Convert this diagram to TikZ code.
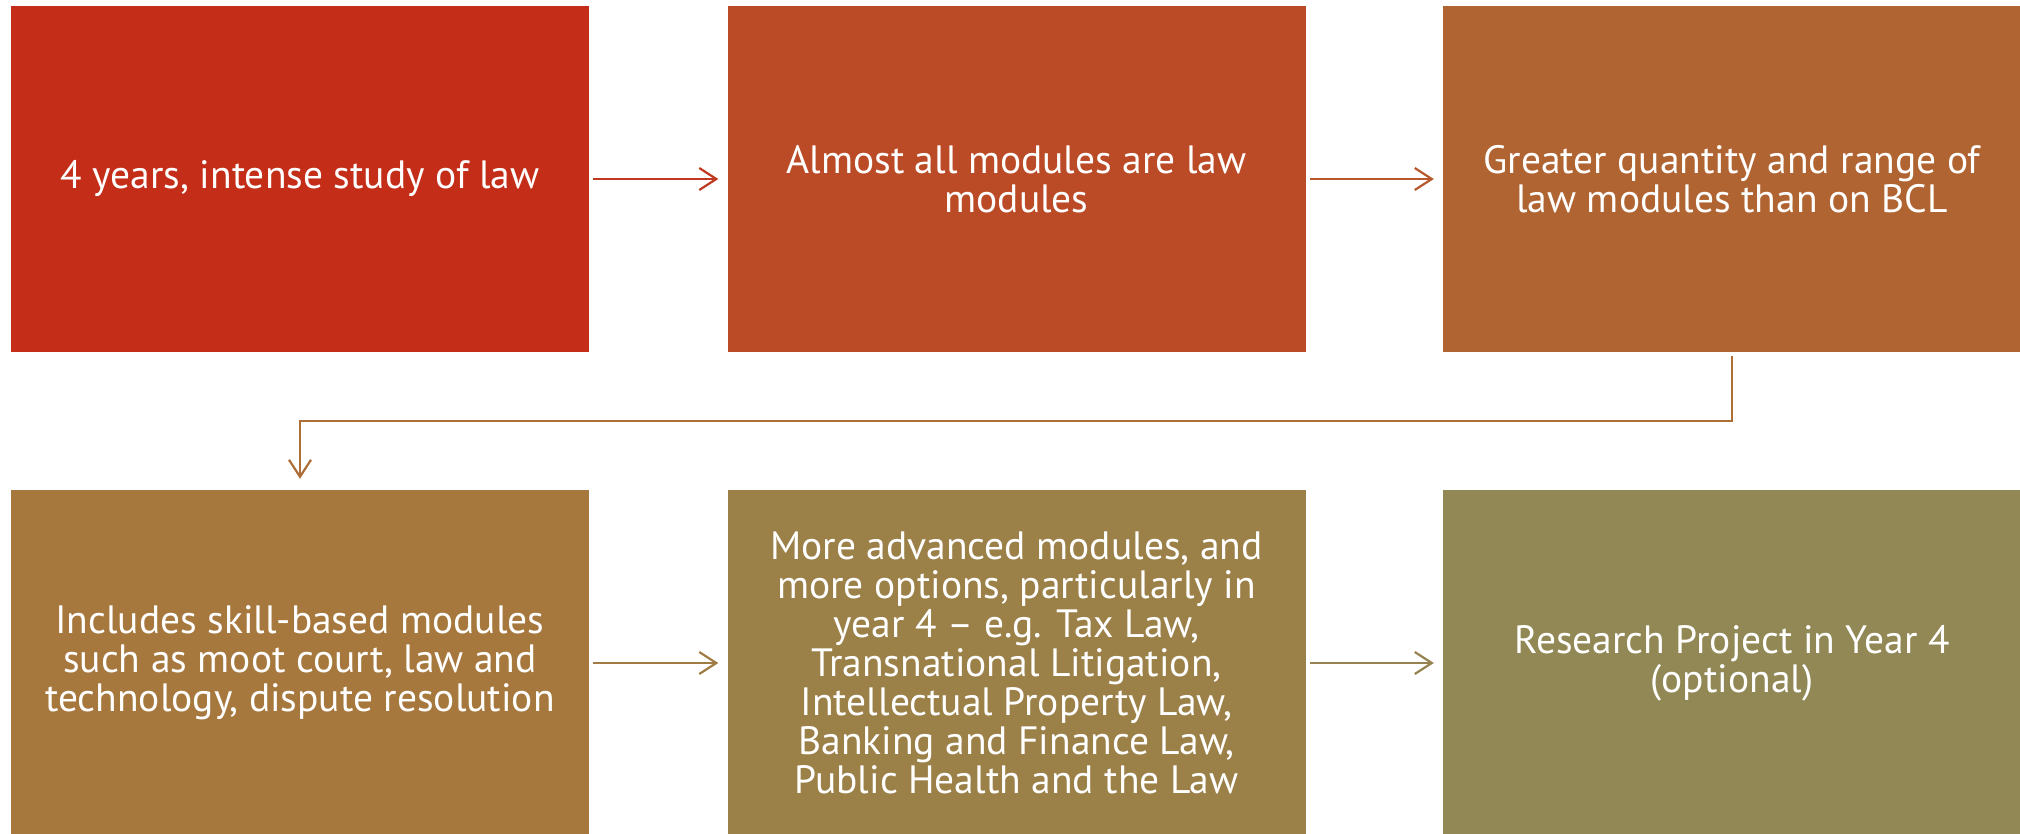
\documentclass[tikz,border=0pt]{standalone}
\usepackage{fontspec}
\setmainfont{PT Sans}
\usetikzlibrary{arrows.meta}
\definecolor{cA}{RGB}{196,46,25}
\definecolor{cB}{RGB}{187,75,38}
\definecolor{cC}{RGB}{176,100,49}
\definecolor{cD}{RGB}{166,120,61}
\definecolor{cE}{RGB}{155,128,72}
\definecolor{cF}{RGB}{145,136,85}
\definecolor{aAB}{RGB}{192,56,31}
\definecolor{aBC}{RGB}{183,88,44}
\definecolor{aCD}{RGB}{173,110,56}
\definecolor{aDE}{RGB}{160,124,68}
\definecolor{aEF}{RGB}{150,132,80}
\begin{document}
\begin{tikzpicture}[x=1pt,y=-1pt,
  box/.style={minimum width=578pt, minimum height=346pt, inner sep=0pt,
    text=white, align=center, font=\fontsize{39.5}{39}\selectfont},
  flow/.style={line width=2.2pt, -{Straight Barb[length=17pt,width=22pt]}}]
\useasboundingbox (0,0) rectangle (2020,833);
\clip (0,0) rectangle (2020,833);
\fill[white] (0,0) rectangle (2020,833);
\node[box, fill=cA] (b1) at (300,179) {4 years, intense study of law};
\node[box, fill=cB] (b2) at (1016.5,179) {Almost all modules are law\\modules};
\node[box, fill=cC] (b3) at (1732,179) {Greater quantity and range of\\law modules than on BCL};
\node[box, fill=cD] (b4) at (300,663) {Includes skill-based modules\\such as moot court, law and\\technology, dispute resolution};
\node[box, fill=cE] (b5) at (1016.5,663) {More advanced modules, and\\more options, particularly in\\year 4 – e.g. Tax Law,\\Transnational Litigation,\\Intellectual Property Law,\\Banking and Finance Law,\\Public Health and the Law};
\node[box, fill=cF] (b6) at (1732,663) {Research Project in Year 4\\(optional)};
\draw[flow, aAB, shorten <=4pt, shorten >=9pt] (b1) -- (b2);
\draw[flow, aBC, shorten <=4pt, shorten >=9pt] (b2) -- (b3);
\draw[flow, aCD, shorten <=4pt, shorten >=11pt] (b3.south) -- ++(0,69) -| (b4.north);
\draw[flow, aDE, shorten <=4pt, shorten >=9pt] (b4) -- (b5);
\draw[flow, aEF, shorten <=4pt, shorten >=9pt] (b5) -- (b6);
\end{tikzpicture}
\end{document}
